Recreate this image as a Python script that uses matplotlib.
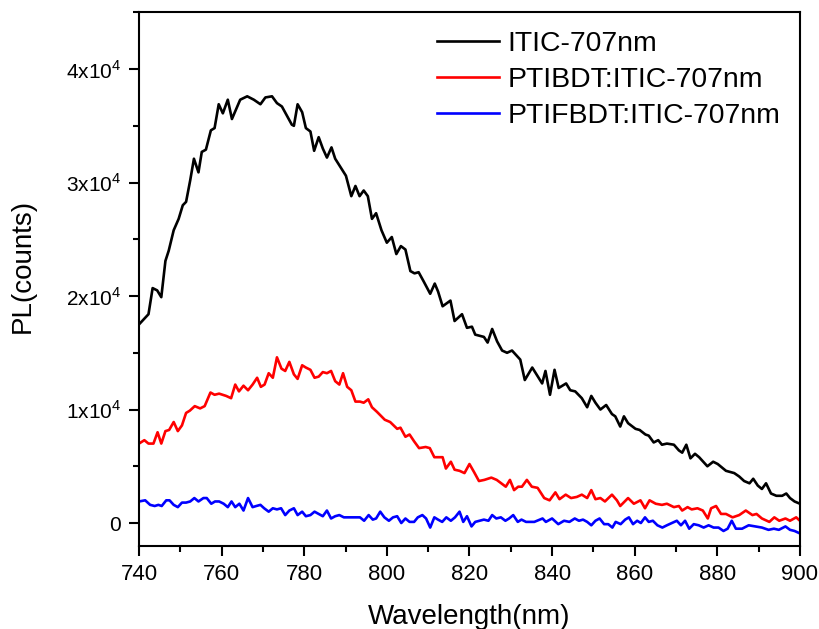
import numpy as np
import matplotlib.pyplot as plt
from matplotlib.ticker import MultipleLocator, FuncFormatter

plt.rcParams['font.family'] = ['Liberation Sans', 'DejaVu Sans']
plt.rcParams['mathtext.fontset'] = 'custom'
plt.rcParams['mathtext.rm'] = 'Liberation Sans'

# values in units of 1e4 counts
x_itic = [740.0, 742.3, 743.3, 744.4, 745.4, 746.4, 747.2, 748.4, 749.6, 750.6, 751.4, 752.4, 753.3, 754.4,
          755.2, 756.2, 757.4, 758.3, 759.3, 760.3, 761.5, 762.5, 764.5, 766.2, 767.8, 769.4, 770.6, 772.2,
          773.4, 774.6, 775.8, 777.0, 777.5, 778.4, 779.5, 780.4, 781.5, 782.4, 783.5, 784.5, 785.5, 786.6,
          787.5, 788.7, 790.1, 791.4, 792.4, 793.4, 794.4, 795.4, 796.4, 797.4, 798.7, 800.0, 801.2, 802.3,
          803.4, 804.5, 805.7, 806.7, 807.7, 808.9, 810.5, 811.6, 812.4, 813.5, 815.4, 816.4, 818.2, 819.4,
          820.6, 821.4, 823.5, 824.4, 825.5, 826.7, 827.9, 829.1, 830.3, 832.3, 833.4, 835.2, 836.4, 837.6,
          838.4, 839.5, 840.6, 841.6, 843.4, 844.4, 845.6, 847.2, 848.5, 849.5, 850.5, 851.7, 853.1, 854.5,
          855.3, 856.5, 857.4, 858.4, 860.2, 861.2, 862.6, 863.4, 864.6, 865.7, 866.6, 867.8, 869.5, 870.7,
          871.5, 872.5, 873.5, 874.6, 875.6, 877.6, 879.0, 880.1, 882.1, 884.1, 885.3, 886.5, 887.8, 888.7,
          889.8, 890.8, 891.8, 893.0, 894.3, 895.7, 896.7, 897.6, 898.7, 900.0]
y_itic = [1.75, 1.84, 2.07, 2.05, 1.99, 2.31, 2.40, 2.58, 2.68, 2.80, 2.83, 3.02, 3.21, 3.09,
          3.27, 3.29, 3.46, 3.48, 3.69, 3.61, 3.73, 3.56, 3.73, 3.76, 3.73, 3.69, 3.75, 3.76,
          3.70, 3.67, 3.59, 3.51, 3.50, 3.69, 3.62, 3.48, 3.45, 3.28, 3.40, 3.30, 3.22, 3.31,
          3.21, 3.14, 3.06, 2.88, 2.97, 2.88, 2.93, 2.88, 2.68, 2.73, 2.58, 2.47, 2.52, 2.37,
          2.44, 2.41, 2.22, 2.20, 2.21, 2.13, 2.02, 2.11, 2.04, 1.91, 1.96, 1.78, 1.84, 1.72,
          1.73, 1.66, 1.64, 1.59, 1.71, 1.60, 1.52, 1.50, 1.52, 1.44, 1.26, 1.37, 1.30, 1.23,
          1.34, 1.13, 1.35, 1.19, 1.23, 1.17, 1.16, 1.10, 1.02, 1.12, 1.06, 1.00, 1.04, 0.96,
          0.94, 0.85, 0.94, 0.88, 0.83, 0.82, 0.78, 0.77, 0.71, 0.73, 0.69, 0.70, 0.69, 0.64,
          0.62, 0.69, 0.57, 0.61, 0.58, 0.50, 0.54, 0.52, 0.46, 0.44, 0.41, 0.37, 0.35, 0.39,
          0.33, 0.30, 0.35, 0.26, 0.24, 0.24, 0.26, 0.22, 0.19, 0.17]

x_ptibdt = [740.0, 741.3, 742.3, 743.5, 744.5, 745.4, 746.4, 747.3, 748.4, 749.4, 750.4, 751.4, 752.3, 753.5,
            754.8, 755.9, 757.3, 758.3, 759.4, 761.1, 762.3, 763.3, 764.2, 765.3, 766.4, 767.5, 768.6, 769.5,
            770.4, 771.4, 772.4, 773.4, 774.5, 775.4, 776.4, 777.5, 778.4, 779.5, 780.4, 781.5, 782.5, 783.5,
            784.5, 785.5, 786.5, 787.5, 788.5, 789.4, 790.4, 791.4, 792.4, 793.5, 794.4, 795.5, 796.4, 797.6,
            798.7, 799.5, 800.8, 802.5, 803.3, 804.5, 805.5, 806.6, 807.8, 809.4, 810.4, 811.5, 813.5, 814.3,
            815.5, 816.4, 817.6, 818.8, 820.0, 821.1, 822.3, 823.6, 825.3, 826.6, 827.7, 828.8, 829.8, 830.8,
            831.8, 832.7, 833.9, 835.1, 836.5, 838.1, 839.4, 840.8, 841.8, 843.3, 844.6, 846.0, 847.2, 848.5,
            849.5, 850.5, 851.7, 852.8, 854.5, 855.7, 856.5, 858.4, 859.8, 861.4, 862.5, 863.6, 865.1, 866.6,
            867.8, 869.5, 870.7, 871.5, 872.8, 873.8, 875.2, 876.5, 877.7, 878.5, 879.7, 880.9, 882.1, 883.7,
            885.3, 886.9, 888.5, 889.5, 890.8, 892.6, 893.8, 895.0, 896.5, 897.6, 899.1, 900.0]
y_ptibdt = [0.70, 0.73, 0.70, 0.70, 0.80, 0.70, 0.81, 0.82, 0.89, 0.81, 0.86, 0.97, 0.99, 1.03,
            1.01, 1.03, 1.15, 1.13, 1.14, 1.12, 1.10, 1.22, 1.16, 1.21, 1.17, 1.22, 1.28, 1.20,
            1.22, 1.32, 1.28, 1.46, 1.36, 1.34, 1.42, 1.31, 1.27, 1.39, 1.37, 1.35, 1.28, 1.29,
            1.33, 1.32, 1.34, 1.25, 1.22, 1.32, 1.20, 1.17, 1.07, 1.07, 1.06, 1.09, 1.02, 0.98,
            0.94, 0.91, 0.89, 0.83, 0.84, 0.76, 0.78, 0.72, 0.66, 0.67, 0.66, 0.58, 0.58, 0.48,
            0.54, 0.47, 0.46, 0.44, 0.52, 0.45, 0.37, 0.38, 0.40, 0.38, 0.35, 0.32, 0.38, 0.29,
            0.32, 0.32, 0.38, 0.32, 0.31, 0.22, 0.20, 0.27, 0.21, 0.25, 0.22, 0.23, 0.25, 0.22,
            0.29, 0.21, 0.22, 0.19, 0.25, 0.20, 0.15, 0.22, 0.17, 0.20, 0.13, 0.20, 0.17, 0.16,
            0.17, 0.14, 0.15, 0.11, 0.14, 0.12, 0.13, 0.11, 0.04, 0.13, 0.15, 0.08, 0.08, 0.05,
            0.07, 0.11, 0.07, 0.08, 0.04, 0.01, 0.05, 0.02, 0.04, 0.02, 0.05, 0.02]

x_ptifbdt = [740.0, 741.5, 742.7, 743.8, 744.7, 745.5, 746.6, 747.4, 748.4, 749.4, 750.4, 751.4, 752.4, 753.4,
             754.4, 755.6, 756.4, 757.5, 758.4, 759.4, 760.5, 761.5, 762.4, 763.3, 764.3, 765.3, 766.4, 767.5,
             768.4, 769.4, 770.3, 771.4, 772.4, 773.4, 774.4, 775.4, 776.4, 777.5, 778.4, 779.5, 780.4, 781.5,
             782.5, 783.5, 784.5, 785.5, 786.5, 787.5, 788.5, 789.6, 790.6, 791.5, 792.5, 793.5, 794.5, 795.6,
             796.6, 797.4, 798.4, 799.4, 800.5, 801.5, 802.5, 803.5, 804.5, 805.5, 806.6, 807.5, 808.6, 809.5,
             810.5, 811.5, 812.4, 813.4, 814.4, 815.5, 816.5, 817.6, 818.5, 819.4, 820.5, 821.4, 822.4, 823.5,
             824.6, 825.5, 826.5, 827.6, 828.7, 829.6, 830.6, 831.7, 832.6, 833.7, 835.7, 837.7, 838.5, 840.0,
             841.5, 842.9, 844.2, 845.5, 846.5, 847.5, 848.5, 849.5, 850.5, 851.5, 852.6, 853.6, 854.6, 855.4,
             856.6, 857.7, 858.6, 859.6, 860.6, 861.5, 862.5, 863.4, 864.4, 865.5, 866.7, 867.8, 869.0, 870.2,
             871.2, 872.2, 873.2, 874.3, 875.5, 876.7, 877.9, 879.1, 880.3, 881.5, 882.5, 883.5, 884.5, 886.0,
             887.6, 889.2, 890.8, 892.4, 893.7, 894.9, 896.5, 897.6, 898.7, 899.9]
y_ptifbdt = [0.19, 0.20, 0.16, 0.15, 0.16, 0.15, 0.20, 0.20, 0.16, 0.14, 0.18, 0.18, 0.19, 0.22,
             0.19, 0.22, 0.22, 0.17, 0.19, 0.19, 0.17, 0.14, 0.19, 0.14, 0.17, 0.11, 0.22, 0.14,
             0.15, 0.16, 0.13, 0.10, 0.13, 0.12, 0.13, 0.07, 0.11, 0.13, 0.07, 0.10, 0.06, 0.07,
             0.10, 0.08, 0.06, 0.11, 0.04, 0.06, 0.07, 0.05, 0.05, 0.05, 0.05, 0.05, 0.02, 0.07,
             0.03, 0.04, 0.10, 0.05, 0.02, 0.05, 0.06, 0.00, 0.04, 0.01, 0.01, 0.05, 0.07, 0.04,
             -0.04, 0.05, 0.03, 0.01, 0.05, 0.02, 0.05, 0.10, 0.01, 0.06, -0.03, 0.01, 0.02, 0.03,
             0.02, 0.07, 0.04, 0.05, 0.02, 0.04, 0.07, 0.01, 0.03, 0.01, 0.01, 0.04, 0.01, 0.04,
             -0.01, 0.02, 0.01, 0.04, 0.02, 0.03, 0.01, -0.02, 0.02, 0.04, -0.01, -0.01, -0.04, 0.01,
             -0.01, 0.03, 0.05, -0.01, 0.02, 0.00, 0.05, 0.01, 0.02, -0.02, -0.04, -0.02, 0.00, 0.02,
             -0.02, 0.02, -0.05, -0.01, -0.02, -0.04, -0.02, -0.04, -0.04, -0.07, -0.05, 0.02, -0.05, -0.05,
             -0.02, -0.03, -0.04, -0.06, -0.05, -0.06, -0.03, -0.06, -0.07, -0.09]

labels = ['ITIC-707nm', 'PTIBDT:ITIC-707nm', 'PTIFBDT:ITIC-707nm']
colors = ['black', 'red', 'blue']

fig = plt.figure(figsize=(8.2, 6.29), dpi=100)
ax = fig.add_axes([0.1695, 0.1324, 0.806, 0.848])

series = [(x_itic, y_itic), (x_ptibdt, y_ptibdt), (x_ptifbdt, y_ptifbdt)]
for (xs, ys), lab, c in zip(series, labels, colors):
    ax.plot(xs, np.array(ys) * 1e4, color=c, lw=1.9, label=lab)

ax.set_xlim(740, 900)
ax.set_ylim(-2000, 45000)
ax.xaxis.set_major_locator(MultipleLocator(20))
ax.xaxis.set_minor_locator(MultipleLocator(10))
ax.yaxis.set_major_locator(MultipleLocator(10000))
ax.yaxis.set_minor_locator(MultipleLocator(5000))


def fmt(v, pos):
    n = int(round(v / 1e4))
    if n == 0:
        return '0'
    return '%dx10$^{4}$' % n


ax.yaxis.set_major_formatter(FuncFormatter(fmt))
ax.tick_params(which='major', direction='out', length=7.5, width=1.5)
ax.tick_params(which='minor', direction='out', length=4.3, width=1.5)
ax.tick_params(axis='x', which='major', labelsize=16, pad=6)
ax.tick_params(axis='y', which='major', labelsize=15, pad=5.5)
for s in ax.spines.values():
    s.set_linewidth(1.5)

ax.set_xlabel('Wavelength(nm)', fontsize=20, labelpad=13)
ax.set_ylabel('PL(counts)', fontsize=20)
ax.yaxis.set_label_coords(-0.156, 0.524)

ax.legend(loc='upper left', bbox_to_anchor=(437 / 820, 1 - 31 / 629), bbox_transform=fig.transFigure,
          frameon=False, fontsize=20.4, handlelength=2.2, handletextpad=0.28, labelspacing=0.36,
          borderpad=0, borderaxespad=0)

fig.savefig('out.png', dpi=100)
